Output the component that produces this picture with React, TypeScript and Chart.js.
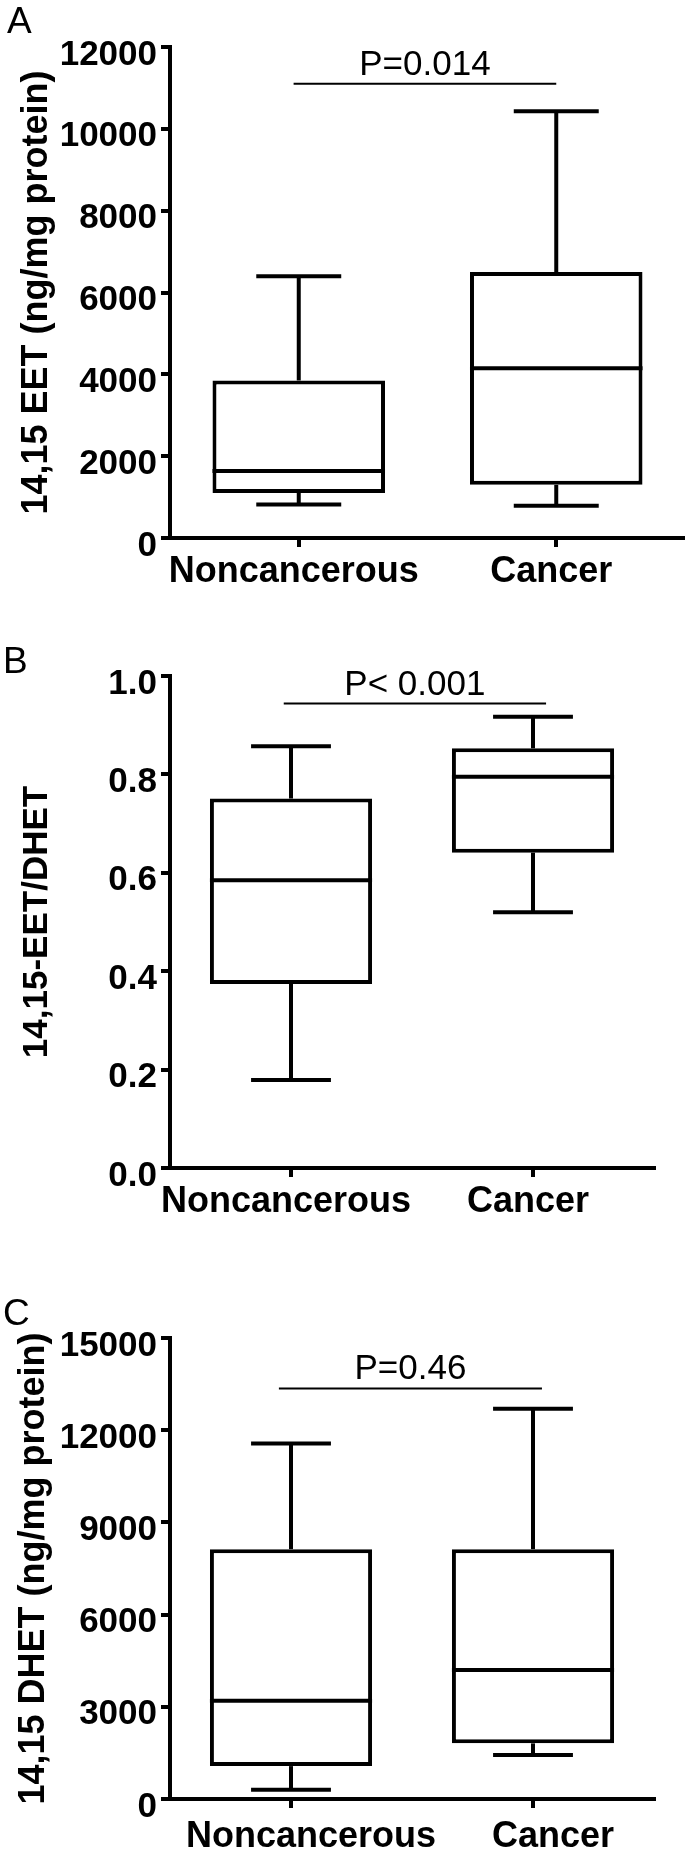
import React, { useEffect, useRef } from "react";
import { Chart, registerables } from "chart.js";

Chart.register(...registerables);

const FONT = "'Liberation Sans', Arial, Helvetica, sans-serif";

const categories = ["Noncancerous", "Cancer"];

// Panel A: 14,15 EET (ng/mg protein)
const eetMin = [820, 790];
const eetQ1 = [1100, 1300];
const eetMedian = [1640, 4150];
const eetQ3 = [3850, 6500];
const eetMax = [6400, 10430];
const eetTicks = [0, 2000, 4000, 6000, 8000, 10000, 12000];
const eetSig = 11100;
const eetP = "P=0.014";

// Panel B: 14,15-EET/DHET ratio
const ratioMin = [0.179, 0.52];
const ratioQ1 = [0.374, 0.641];
const ratioMedian = [0.585, 0.795];
const ratioQ3 = [0.751, 0.853];
const ratioMax = [0.857, 0.917];
const ratioTicks = [0, 0.2, 0.4, 0.6, 0.8, 1.0];
const ratioSig = 0.944;
const ratioP = "P< 0.001";

// Panel C: 14,15 DHET (ng/mg protein)
const dhetMin = [300, 1430];
const dhetQ1 = [1070, 1810];
const dhetMedian = [3200, 4200];
const dhetQ3 = [8130, 8130];
const dhetMax = [11570, 12700];
const dhetTicks = [0, 3000, 6000, 9000, 12000, 15000];
const dhetSig = 13360;
const dhetP = "P=0.46";

type Panel = {
  key: string;
  letter: string;
  letterX: number;
  letterY: number;
  title: string;
  min: number[];
  q1: number[];
  median: number[];
  q3: number[];
  max: number[];
  ticks: number[];
  decimals: number;
  sig: number;
  pText: string;
  sigFrom: number;
  sigTo: number;
  top: number;
  height: number;
  padTop: number;
  padRight: number;
  xAxisHeight: number;
  xLabelOffset: number;
  xLabelPad: number;
  tickFont: number;
  titleFont: number;
  titlePad: number;
};

const panels: Panel[] = [
  {
    key: "A", letter: "A", letterX: 7, letterY: 33,
    title: "14,15 EET (ng/mg protein)",
    min: eetMin, q1: eetQ1, median: eetMedian, q3: eetQ3, max: eetMax,
    ticks: eetTicks, decimals: 0, sig: eetSig, pText: eetP,
    sigFrom: -0.02, sigTo: 1.0,
    top: 0, height: 620, padTop: 47, padRight: 0, xAxisHeight: 82,
    xLabelOffset: -5, xLabelPad: 3, tickFont: 35, titleFont: 36, titlePad: 15,
  },
  {
    key: "B", letter: "B", letterX: 3, letterY: 53,
    title: "14,15-EET/DHET",
    min: ratioMin, q1: ratioQ1, median: ratioMedian, q3: ratioQ3, max: ratioMax,
    ticks: ratioTicks, decimals: 1, sig: ratioSig, pText: ratioP,
    sigFrom: -0.03, sigTo: 1.054,
    top: 620, height: 620, padTop: 56, padRight: 31, xAxisHeight: 72,
    xLabelOffset: -5, xLabelPad: 3, tickFont: 35, titleFont: 35, titlePad: 16,
  },
  {
    key: "C", letter: "C", letterX: 3, letterY: 85,
    title: "14,15 DHET (ng/mg protein)",
    min: dhetMin, q1: dhetQ1, median: dhetMedian, q3: dhetQ3, max: dhetMax,
    ticks: dhetTicks, decimals: 0, sig: dhetSig, pText: dhetP,
    sigFrom: -0.05, sigTo: 1.037,
    top: 1240, height: 622, padTop: 98, padRight: 31, xAxisHeight: 63,
    xLabelOffset: 20, xLabelPad: 7, tickFont: 35, titleFont: 36, titlePad: 12,
  },
];

function boxPlugin(p: Panel) {
  return {
    id: "boxWhisker" + p.key,
    afterDatasetsDraw(chart: any) {
      const { ctx } = chart;
      const x = chart.scales.x;
      const y = chart.scales.y;
      const meta = chart.getDatasetMeta(0);
      const x0 = x.getPixelForValue(0);
      const x1 = x.getPixelForValue(1);
      const band = x1 - x0;
      const capHalf = (band * 0.33) / 2;
      const line = (ax: number, ay: number, bx: number, by: number) => {
        ctx.beginPath();
        ctx.moveTo(ax, ay);
        ctx.lineTo(bx, by);
        ctx.stroke();
      };
      ctx.save();
      ctx.strokeStyle = "#000";
      ctx.lineWidth = 4;
      ctx.lineCap = "butt";
      categories.forEach((_, i) => {
        const cx = x.getPixelForValue(i);
        const bar = meta.data[i];
        const half = bar.width / 2;
        const yMin = y.getPixelForValue(p.min[i]);
        const yQ1 = y.getPixelForValue(p.q1[i]);
        const yMed = y.getPixelForValue(p.median[i]);
        const yQ3 = y.getPixelForValue(p.q3[i]);
        const yMax = y.getPixelForValue(p.max[i]);
        line(cx, yQ3, cx, yMax);
        line(cx, yQ1, cx, yMin);
        line(cx - capHalf, yMax, cx + capHalf, yMax);
        line(cx - capHalf, yMin, cx + capHalf, yMin);
        line(cx - half, yMed, cx + half, yMed);
      });
      // significance bracket
      const sx0 = x0 + band * p.sigFrom;
      const sx1 = x0 + band * p.sigTo;
      const sy = y.getPixelForValue(p.sig);
      ctx.lineWidth = 2;
      line(sx0, sy, sx1, sy);
      ctx.fillStyle = "#000";
      ctx.font = `35px ${FONT}`;
      ctx.textAlign = "center";
      ctx.textBaseline = "alphabetic";
      ctx.fillText(p.pText, (sx0 + sx1) / 2, sy - 9);
      // panel letter
      ctx.font = `37px ${FONT}`;
      ctx.textAlign = "left";
      ctx.fillText(p.letter, p.letterX, p.letterY);
      ctx.restore();
    },
  };
}

function makeConfig(p: Panel): any {
  const yMax = p.ticks[p.ticks.length - 1];
  return {
    type: "bar",
    data: {
      labels: categories,
      datasets: [
        {
          data: p.q1.map((q, i) => [q, p.q3[i]]),
          backgroundColor: "#ffffff",
          borderColor: "#000000",
          borderWidth: 4,
          borderSkipped: false,
          barPercentage: 0.67,
          categoryPercentage: 1,
        },
      ],
    },
    options: {
      animation: false,
      responsive: false,
      maintainAspectRatio: false,
      events: [],
      layout: { padding: { top: p.padTop, right: p.padRight, left: 0, bottom: 0 } },
      plugins: {
        legend: { display: false },
        tooltip: { enabled: false },
        title: { display: false },
      },
      scales: {
        x: {
          type: "category",
          offset: true,
          grid: {
            display: true,
            drawOnChartArea: false,
            drawTicks: true,
            tickLength: 9,
            tickWidth: 4,
            tickColor: "#000",
            offset: false,
            color: "#000",
            lineWidth: 4,
          },
          border: { display: true, color: "#000", width: 4 },
          ticks: {
            color: "#000",
            font: { family: FONT, size: 36, weight: "bold" },
            padding: p.xLabelPad,
            labelOffset: p.xLabelOffset,
            maxRotation: 0,
            minRotation: 0,
            autoSkip: false,
          },
          afterFit: (s: any) => {
            s.height = p.xAxisHeight;
          },
        },
        y: {
          type: "linear",
          min: 0,
          max: yMax,
          afterBuildTicks: (s: any) => {
            s.ticks = p.ticks.map((v) => ({ value: v }));
          },
          grid: {
            display: true,
            drawOnChartArea: false,
            drawTicks: true,
            tickLength: 9,
            tickWidth: 4,
            tickColor: "#000",
            color: "#000",
            lineWidth: 4,
          },
          border: { display: true, color: "#000", width: 4 },
          ticks: {
            color: "#000",
            font: { family: FONT, size: p.tickFont, weight: "bold" },
            padding: 4,
            labelOffset: 8,
            callback: (v: any) => Number(v).toFixed(p.decimals),
          },
          title: {
            display: true,
            text: p.title,
            color: "#000",
            font: { family: FONT, size: p.titleFont, weight: "bold" },
            padding: { top: p.titlePad, bottom: 0 },
          },
          afterFit: (s: any) => {
            s.width = 170;
          },
        },
      },
    },
    plugins: [boxPlugin(p)],
  };
}

function PanelChart({ p }: { p: Panel }) {
  const ref = useRef<HTMLCanvasElement | null>(null);
  useEffect(() => {
    if (!ref.current) return;
    const chart = new Chart(ref.current, makeConfig(p));
    return () => chart.destroy();
  }, [p]);
  return (
    <div style={{ position: "absolute", left: 0, top: p.top, width: 685, height: p.height }}>
      <canvas ref={ref} width={685} height={p.height} style={{ width: 685, height: p.height, display: "block" }} />
    </div>
  );
}

export default function App() {
  return (
    <div
      style={{
        position: "absolute",
        left: 0,
        top: 0,
        width: 685,
        height: 1862,
        background: "#fff",
        overflow: "hidden",
      }}
    >
      {panels.map((p) => (
        <PanelChart key={p.key} p={p} />
      ))}
    </div>
  );
}
